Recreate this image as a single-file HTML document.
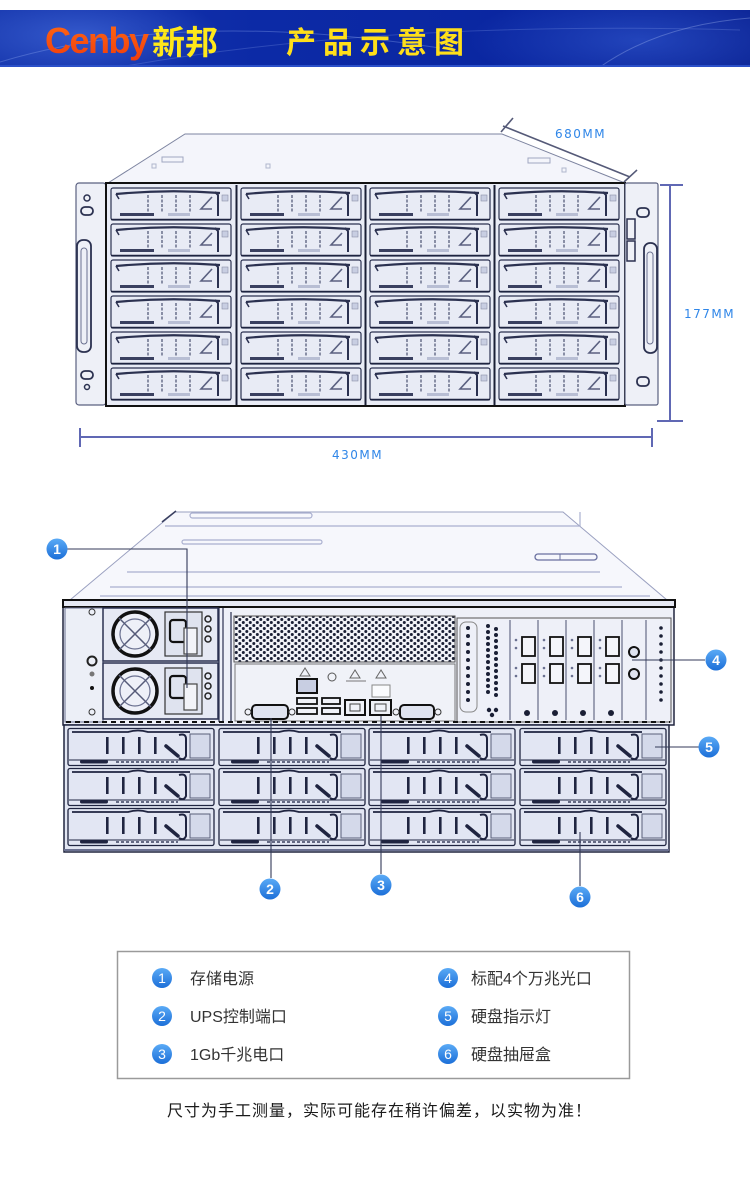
<!DOCTYPE html>
<html><head><meta charset="utf-8"><style>
html,body{margin:0;padding:0;background:#fff;}
svg{display:block;}
</style></head><body>
<svg width="750" height="1185" viewBox="0 0 750 1185" xmlns="http://www.w3.org/2000/svg">
<defs>
<clipPath id="bandclip"><rect x="0" y="10" width="750" height="57"/></clipPath>
<linearGradient id="band" x1="0" y1="0" x2="1" y2="0">
<stop offset="0" stop-color="#1636ad"/><stop offset="0.35" stop-color="#0c2aa6"/><stop offset="0.7" stop-color="#0a26a0"/><stop offset="1" stop-color="#0b2394"/>
</linearGradient>
<radialGradient id="spot1" cx="0.5" cy="0.5" r="0.5"><stop offset="0" stop-color="#4a72e0" stop-opacity="0.6"/><stop offset="1" stop-color="#4a72e0" stop-opacity="0"/></radialGradient>
<radialGradient id="spot2" cx="0.5" cy="0.5" r="0.5"><stop offset="0" stop-color="#3a64dc" stop-opacity="0.5"/><stop offset="1" stop-color="#3a64dc" stop-opacity="0"/></radialGradient>
<linearGradient id="orange" x1="0" y1="0" x2="0" y2="1"><stop offset="0" stop-color="#ff6a14"/><stop offset="1" stop-color="#f03c0c"/></linearGradient>
<linearGradient id="bub" x1="0" y1="0" x2="0" y2="1"><stop offset="0" stop-color="#5aaaf6"/><stop offset="1" stop-color="#1c6fd8"/></linearGradient>
<pattern id="dots" x="0" y="0" width="7" height="6" patternUnits="userSpaceOnUse">
<rect width="7" height="6" fill="#f2f3f8"/>
<circle cx="1.8" cy="1.5" r="1.5" fill="#1a1f35"/><circle cx="5.3" cy="4.5" r="1.5" fill="#1a1f35"/>
</pattern>
<g id="fd">
<rect x="3" y="2" width="120" height="32" rx="2" fill="#e8ebf5" stroke="#2b3150" stroke-width="1.2"/>
<path d="M8 8 Q60 3 112 7" fill="none" stroke="#2b3150" stroke-width="2.2"/>
<path d="M8 8 L11 13" stroke="#2b3150" stroke-width="1.5"/>
<g stroke="#4a5070" stroke-width="1.2" stroke-dasharray="3 1.5">
<line x1="40" y1="9" x2="40" y2="26"/><line x1="54" y1="9" x2="54" y2="26"/><line x1="68" y1="9" x2="68" y2="26"/><line x1="82" y1="9" x2="82" y2="26"/>
</g>
<path d="M104 11 L93 23 L104 23" fill="none" stroke="#5a6080" stroke-width="1.6"/>
<path d="M107 6 L110 9 L110 30" fill="none" stroke="#2b3150" stroke-width="2"/>
<rect x="114" y="9" width="6" height="6" fill="#c8cee2" stroke="#8a90a8" stroke-width="0.6"/>
<rect x="12" y="27" width="34" height="3" fill="#3a4060"/>
<rect x="60" y="27" width="22" height="3" fill="#b8bed4"/>
<line x1="3" y1="33.5" x2="123" y2="33.5" stroke="#1e2440" stroke-width="1.5"/>
</g>
<g id="rd">
<rect x="2" y="1.5" width="146" height="37" rx="2" fill="#e2e6f3" stroke="#1f2440" stroke-width="1.3"/>
<path d="M6 5 H62 Q72 2 82 5 H124" fill="none" stroke="#1f2440" stroke-width="1.8"/>
<rect x="40" y="10" width="2.6" height="17" fill="#1f2440"/>
<rect x="56" y="10" width="2.6" height="17" fill="#1f2440"/>
<rect x="72" y="10" width="2.6" height="17" fill="#1f2440"/>
<rect x="88" y="10" width="2.6" height="17" fill="#1f2440"/>
<line x1="100" y1="19" x2="112" y2="29" stroke="#1f2440" stroke-width="3.5" stroke-linecap="round"/>
<path d="M113 8 Q120 6 120 12 V29 Q118 34 113 31" fill="none" stroke="#1f2440" stroke-width="2"/>
<rect x="124" y="7" width="20" height="24" fill="#d4d9ea" stroke="#5a607a" stroke-width="1"/>
<line x1="3" y1="33" x2="147" y2="33" stroke="#1f2440" stroke-width="1"/>
<rect x="14" y="33" width="28" height="3.5" rx="1.7" fill="#1f2440"/>
<path d="M50 35 h62" stroke="#3a4060" stroke-width="1.5" stroke-dasharray="3 2"/>
</g>
</defs>

<!-- HEADER -->
<g clip-path="url(#bandclip)">
<rect x="0" y="10" width="750" height="57" fill="url(#band)"/>
<ellipse cx="80" cy="35" rx="140" ry="45" fill="url(#spot1)"/>
<ellipse cx="640" cy="40" rx="170" ry="50" fill="url(#spot2)"/>
<path d="M0 62 Q180 8 440 48" fill="none" stroke="#8fa8f0" stroke-opacity="0.35" stroke-width="1"/>
<path d="M120 67 Q380 20 740 30" fill="none" stroke="#8fa8f0" stroke-opacity="0.25" stroke-width="1"/>
<path d="M600 67 Q660 25 750 18" fill="none" stroke="#a8bcf4" stroke-opacity="0.35" stroke-width="1"/>
<rect x="0" y="65" width="750" height="2" fill="#2b50c8"/>
</g>
<text x="45" y="53" font-family="Liberation Sans, sans-serif" font-weight="700" font-size="36" letter-spacing="-1.5" fill="url(#orange)">Cenby</text>
<text x="152" y="54" font-family="Liberation Sans, Noto Sans CJK SC, sans-serif" font-weight="700" font-size="33" fill="#ffe81a">新邦</text>
<text x="286" y="53" font-family="Liberation Sans, Noto Sans CJK SC, sans-serif" font-weight="700" font-size="30" letter-spacing="7" fill="#ffdf1a">产品示意图</text>

<!-- FRONT VIEW -->
<polygon points="185,134 502,134 625,183 108,183" fill="#f4f5fb" stroke="#7d84a0" stroke-width="1"/>
<rect x="162" y="157" width="21" height="5" fill="none" stroke="#a0a6c0" stroke-width="1"/>
<rect x="528" y="158" width="22" height="5" fill="none" stroke="#a0a6c0" stroke-width="1"/>
<rect x="152" y="164" width="4" height="4" fill="none" stroke="#b0b6cc"/>
<rect x="266" y="164" width="4" height="4" fill="none" stroke="#b0b6cc"/>
<rect x="562" y="168" width="4" height="4" fill="none" stroke="#b0b6cc"/>
<!-- left ear -->
<rect x="76" y="183" width="30" height="222" rx="3" fill="#eef0f7" stroke="#5a6080" stroke-width="1.2"/>
<circle cx="87" cy="198" r="3" fill="none" stroke="#2b3150" stroke-width="1.5"/>
<rect x="81" y="207" width="12" height="8" rx="4" fill="none" stroke="#2b3150" stroke-width="1.8"/>
<rect x="77" y="240" width="14" height="112" rx="6" fill="none" stroke="#2b3150" stroke-width="1.8"/>
<rect x="81" y="248" width="6" height="96" rx="3" fill="none" stroke="#6a7090" stroke-width="1"/>
<rect x="81" y="371" width="12" height="8" rx="4" fill="none" stroke="#2b3150" stroke-width="1.8"/>
<circle cx="87" cy="387" r="2.5" fill="none" stroke="#2b3150" stroke-width="1.5"/>
<!-- main frame -->
<rect x="106" y="183" width="519" height="223" fill="#e9ecf6" stroke="#111" stroke-width="2"/>
<use href="#fd" x="108" y="186"/><use href="#fd" x="108" y="222"/><use href="#fd" x="108" y="258"/><use href="#fd" x="108" y="294"/><use href="#fd" x="108" y="330"/><use href="#fd" x="108" y="366"/>
<use href="#fd" x="238" y="186"/><use href="#fd" x="238" y="222"/><use href="#fd" x="238" y="258"/><use href="#fd" x="238" y="294"/><use href="#fd" x="238" y="330"/><use href="#fd" x="238" y="366"/>
<use href="#fd" x="367" y="186"/><use href="#fd" x="367" y="222"/><use href="#fd" x="367" y="258"/><use href="#fd" x="367" y="294"/><use href="#fd" x="367" y="330"/><use href="#fd" x="367" y="366"/>
<use href="#fd" x="496" y="186"/><use href="#fd" x="496" y="222"/><use href="#fd" x="496" y="258"/><use href="#fd" x="496" y="294"/><use href="#fd" x="496" y="330"/><use href="#fd" x="496" y="366"/>
<g stroke="#1a1f35" stroke-width="2"><line x1="236.5" y1="185" x2="236.5" y2="405"/><line x1="365.5" y1="185" x2="365.5" y2="405"/><line x1="494.5" y1="185" x2="494.5" y2="405"/></g>
<!-- right ear -->
<rect x="625" y="183" width="33" height="222" rx="2" fill="#eef0f7" stroke="#5a6080" stroke-width="1.2"/>
<rect x="627" y="219" width="8" height="20" fill="none" stroke="#2b3150" stroke-width="1.5"/>
<rect x="627" y="241" width="8" height="20" fill="none" stroke="#2b3150" stroke-width="1.5"/>
<rect x="637" y="208" width="12" height="9" rx="4" fill="none" stroke="#2b3150" stroke-width="1.8"/>
<rect x="644" y="243" width="13" height="110" rx="6" fill="none" stroke="#2b3150" stroke-width="1.8"/>
<rect x="647" y="252" width="6" height="92" rx="3" fill="none" stroke="#6a7090" stroke-width="1"/>
<rect x="637" y="377" width="12" height="9" rx="4" fill="none" stroke="#2b3150" stroke-width="1.8"/>

<!-- dimension lines -->
<g stroke="#555a78" stroke-width="1.6">
<line x1="503" y1="126" x2="630" y2="177"/>
<line x1="513" y1="118" x2="501" y2="132"/>
<line x1="637" y1="170" x2="624" y2="182"/>
</g>
<g stroke="#6068b4" stroke-width="2">
<line x1="670" y1="185" x2="670" y2="421"/>
<line x1="660" y1="185" x2="683" y2="185"/>
<line x1="657" y1="421" x2="683" y2="421"/>
<line x1="80" y1="437" x2="651" y2="437"/>
<line x1="80" y1="428" x2="80" y2="447"/>
<line x1="652" y1="428" x2="652" y2="447"/>
</g>
<g font-family="DejaVu Sans, Liberation Sans, sans-serif" font-size="12" letter-spacing="1.5" fill="#2f86e8">
<text x="555" y="138">680MM</text>
<text x="684" y="318">177MM</text>
<text x="332" y="459">430MM</text>
</g>

<!-- REAR VIEW -->
<polygon points="175,512 563,512 667,600 70,600" fill="#f6f7fc" stroke="#9aa0c0" stroke-width="1"/>
<line x1="162" y1="522" x2="176" y2="511" stroke="#3a4060" stroke-width="1.5"/>
<g fill="none" stroke="#aab0d0" stroke-width="1.2">
<rect x="190" y="513" width="122" height="5" rx="2.5"/>
<line x1="165" y1="526" x2="580" y2="526"/>
<line x1="580" y1="512" x2="580" y2="526"/>
<rect x="182" y="540" width="140" height="4" rx="2"/>
<line x1="127" y1="572" x2="600" y2="572"/>
<line x1="110" y1="587" x2="622" y2="587"/>
<line x1="100" y1="596" x2="650" y2="596"/>
</g>
<rect x="535" y="554" width="62" height="6" rx="3" fill="none" stroke="#6a70a0" stroke-width="1.3"/>
<line x1="560" y1="554" x2="560" y2="560" stroke="#6a70a0"/>
<!-- rear panel -->
<rect x="63" y="600" width="611" height="125" fill="#eef0f8" stroke="#20253f" stroke-width="1.5"/>
<rect x="63" y="600" width="612" height="7" fill="#e6e9f4" stroke="#111" stroke-width="2"/>
<!-- left strip -->
<rect x="65" y="608" width="38" height="114" fill="#eceff7" stroke="#6a7090" stroke-width="1"/>
<circle cx="92" cy="612" r="3" fill="none" stroke="#333"/>
<circle cx="92" cy="661" r="4.5" fill="none" stroke="#222" stroke-width="2"/>
<circle cx="92" cy="674" r="2.5" fill="#777"/>
<circle cx="92" cy="688" r="2" fill="#111"/>
<circle cx="92" cy="712" r="3" fill="none" stroke="#333"/>
<!-- PSU 1 -->
<rect x="103" y="608" width="115" height="53" fill="#e6e9f4" stroke="#2a3050" stroke-width="1.5"/>
<circle cx="135" cy="634" r="22" fill="#eef0f8" stroke="#111" stroke-width="3.5"/>
<circle cx="135" cy="634" r="15" fill="none" stroke="#6a7090" stroke-width="1.2"/>
<path d="M119 618 L151 650 M151 618 L119 650" stroke="#555a78" stroke-width="1.5"/>
<rect x="165" y="612" width="37" height="44" fill="#dfe3ef" stroke="#333" stroke-width="1.2"/>
<rect x="170" y="620" width="16" height="22" rx="3" fill="none" stroke="#111" stroke-width="2.2"/>
<rect x="184" y="628" width="13" height="26" fill="#f2f3f8" stroke="#444" stroke-width="1.2"/>
<circle cx="208" cy="619" r="3" fill="none" stroke="#222" stroke-width="1.5"/><circle cx="208" cy="629" r="3" fill="none" stroke="#222" stroke-width="1.5"/><circle cx="208" cy="639" r="3" fill="none" stroke="#222" stroke-width="1.5"/>
<!-- PSU 2 -->
<rect x="103" y="663" width="115" height="56" fill="#e6e9f4" stroke="#2a3050" stroke-width="1.5"/>
<circle cx="135" cy="691" r="22" fill="#eef0f8" stroke="#111" stroke-width="3.5"/>
<circle cx="135" cy="691" r="15" fill="none" stroke="#6a7090" stroke-width="1.2"/>
<path d="M119 675 L151 707 M151 675 L119 707" stroke="#555a78" stroke-width="1.5"/>
<rect x="165" y="668" width="37" height="46" fill="#dfe3ef" stroke="#333" stroke-width="1.2"/>
<rect x="170" y="676" width="16" height="22" rx="3" fill="none" stroke="#111" stroke-width="2.2"/>
<rect x="184" y="684" width="13" height="26" fill="#f2f3f8" stroke="#444" stroke-width="1.2"/>
<circle cx="208" cy="676" r="3" fill="none" stroke="#222" stroke-width="1.5"/><circle cx="208" cy="686" r="3" fill="none" stroke="#222" stroke-width="1.5"/><circle cx="208" cy="696" r="3" fill="none" stroke="#222" stroke-width="1.5"/>
<!-- divider -->
<g stroke="#2a3050" stroke-width="1.2"><line x1="219" y1="608" x2="219" y2="722"/><line x1="223" y1="608" x2="223" y2="722"/><line x1="231" y1="612" x2="231" y2="722"/></g>
<!-- vent -->
<rect x="234" y="616" width="221" height="46" fill="url(#dots)" stroke="#555" stroke-width="1"/>
<rect x="235" y="664" width="220" height="57" fill="#f0f2f8" stroke="#777" stroke-width="1"/>
<!-- IO ports -->
<rect x="252" y="705" width="36" height="14" rx="4" fill="#dfe3ef" stroke="#111" stroke-width="2"/>
<circle cx="248" cy="712" r="3" fill="none" stroke="#333"/><circle cx="292" cy="712" r="3" fill="none" stroke="#333"/>
<path d="M305 668 L300 676 L310 676 Z" fill="none" stroke="#666"/>
<rect x="297" y="679" width="20" height="14" fill="#c8cee2" stroke="#111" stroke-width="2"/>
<rect x="297" y="698" width="20" height="6" fill="#f0f2f8" stroke="#111" stroke-width="1.8"/>
<rect x="297" y="708" width="20" height="6" fill="#f0f2f8" stroke="#111" stroke-width="1.8"/>
<circle cx="332" cy="677" r="4" fill="none" stroke="#555"/>
<rect x="322" y="698" width="18" height="6" fill="#f0f2f8" stroke="#111" stroke-width="1.8"/>
<rect x="322" y="708" width="18" height="6" fill="#f0f2f8" stroke="#111" stroke-width="1.8"/>
<path d="M355 670 L350 678 L360 678 Z" fill="none" stroke="#666"/>
<line x1="346" y1="681" x2="366" y2="681" stroke="#777"/>
<rect x="345" y="700" width="20" height="15" fill="#f0f2f8" stroke="#111" stroke-width="2"/>
<rect x="350" y="704" width="10" height="7" fill="none" stroke="#444"/>
<path d="M381 670 L376 678 L386 678 Z" fill="none" stroke="#666"/>
<rect x="372" y="685" width="18" height="12" fill="#fafbfd" stroke="#888"/>
<rect x="370" y="700" width="21" height="15" fill="#f0f2f8" stroke="#111" stroke-width="2"/>
<rect x="375" y="704" width="11" height="7" fill="none" stroke="#444"/>
<rect x="400" y="705" width="34" height="14" rx="4" fill="#dfe3ef" stroke="#111" stroke-width="2"/>
<circle cx="396" cy="712" r="3" fill="none" stroke="#333"/><circle cx="438" cy="712" r="3" fill="none" stroke="#333"/>
<!-- right PCIe area -->
<rect x="457" y="618" width="214" height="104" fill="#eef0f8" stroke="#555" stroke-width="1"/>
<rect x="460" y="622" width="17" height="90" rx="6" fill="none" stroke="#888"/>
<g fill="#1a1f35">
<circle cx="468" cy="628" r="2"/><circle cx="468" cy="636" r="2"/><circle cx="468" cy="644" r="2"/><circle cx="468" cy="652" r="2"/><circle cx="468" cy="660" r="2"/><circle cx="468" cy="668" r="2"/><circle cx="468" cy="676" r="2"/><circle cx="468" cy="684" r="2"/><circle cx="468" cy="692" r="2"/><circle cx="468" cy="700" r="2"/>
<circle cx="488" cy="626" r="2"/><circle cx="496" cy="629" r="2"/><circle cx="488" cy="632" r="2"/><circle cx="496" cy="635" r="2"/><circle cx="488" cy="638" r="2"/><circle cx="496" cy="641" r="2"/><circle cx="488" cy="644" r="2"/><circle cx="496" cy="647" r="2"/><circle cx="488" cy="650" r="2"/><circle cx="496" cy="653" r="2"/><circle cx="488" cy="656" r="2"/><circle cx="496" cy="659" r="2"/><circle cx="488" cy="662" r="2"/><circle cx="496" cy="665" r="2"/><circle cx="488" cy="668" r="2"/><circle cx="496" cy="671" r="2"/><circle cx="488" cy="674" r="2"/><circle cx="496" cy="677" r="2"/><circle cx="488" cy="680" r="2"/><circle cx="496" cy="683" r="2"/><circle cx="488" cy="686" r="2"/><circle cx="496" cy="689" r="2"/><circle cx="488" cy="692" r="2"/><circle cx="496" cy="695" r="2"/>
<circle cx="489" cy="710" r="2.2"/><circle cx="496" cy="710" r="2.2"/><circle cx="492" cy="715" r="2.2"/>
<circle cx="661" cy="628" r="1.8"/><circle cx="661" cy="636" r="1.8"/><circle cx="661" cy="644" r="1.8"/><circle cx="661" cy="652" r="1.8"/><circle cx="661" cy="660" r="1.8"/><circle cx="661" cy="668" r="1.8"/><circle cx="661" cy="676" r="1.8"/><circle cx="661" cy="684" r="1.8"/><circle cx="661" cy="692" r="1.8"/><circle cx="661" cy="700" r="1.8"/>
<circle cx="527" cy="713" r="3"/><circle cx="555" cy="713" r="3"/><circle cx="583" cy="713" r="3"/><circle cx="611" cy="713" r="3"/>
</g>
<g stroke="#4a5070" stroke-width="1"><line x1="510" y1="620" x2="510" y2="720"/><line x1="538" y1="620" x2="538" y2="720"/><line x1="566" y1="620" x2="566" y2="720"/><line x1="594" y1="620" x2="594" y2="720"/><line x1="622" y1="620" x2="622" y2="720"/><line x1="646" y1="620" x2="646" y2="720"/></g>
<g fill="#f4f5fa" stroke="#111" stroke-width="1.8">
<rect x="522" y="637" width="13" height="19"/><rect x="522" y="664" width="13" height="19"/>
<rect x="550" y="637" width="13" height="19"/><rect x="550" y="664" width="13" height="19"/>
<rect x="578" y="637" width="13" height="19"/><rect x="578" y="664" width="13" height="19"/>
<rect x="606" y="637" width="13" height="19"/><rect x="606" y="664" width="13" height="19"/>
</g>
<g fill="#6a7090">
<circle cx="516" cy="640" r="1.3"/><circle cx="516" cy="648" r="1.3"/><circle cx="516" cy="668" r="1.3"/><circle cx="516" cy="676" r="1.3"/>
<circle cx="544" cy="640" r="1.3"/><circle cx="544" cy="648" r="1.3"/><circle cx="544" cy="668" r="1.3"/><circle cx="544" cy="676" r="1.3"/>
<circle cx="572" cy="640" r="1.3"/><circle cx="572" cy="648" r="1.3"/><circle cx="572" cy="668" r="1.3"/><circle cx="572" cy="676" r="1.3"/>
<circle cx="600" cy="640" r="1.3"/><circle cx="600" cy="648" r="1.3"/><circle cx="600" cy="668" r="1.3"/><circle cx="600" cy="676" r="1.3"/>
</g>
<circle cx="634" cy="652" r="5" fill="#dfe3ef" stroke="#111" stroke-width="2"/>
<circle cx="634" cy="674" r="5" fill="#dfe3ef" stroke="#111" stroke-width="2"/>
<line x1="66" y1="722" x2="670" y2="722" stroke="#111" stroke-width="2" stroke-dasharray="5 4"/>
<!-- rear drives -->
<rect x="64" y="725" width="605" height="127" fill="#e2e6f2" stroke="#20253f" stroke-width="1.5"/>
<use href="#rd" x="66" y="727"/><use href="#rd" x="66" y="767"/><use href="#rd" x="66" y="807"/>
<use href="#rd" x="217" y="727"/><use href="#rd" x="217" y="767"/><use href="#rd" x="217" y="807"/>
<use href="#rd" x="367" y="727"/><use href="#rd" x="367" y="767"/><use href="#rd" x="367" y="807"/>
<use href="#rd" x="518" y="727"/><use href="#rd" x="518" y="767"/><use href="#rd" x="518" y="807"/>
<line x1="64" y1="850" x2="669" y2="850" stroke="#6a7090" stroke-width="2"/>

<!-- leaders -->
<g stroke="#333a58" stroke-width="1.1" fill="none">
<path d="M67 549 H187 V688"/>
<path d="M632 660 H705"/>
<path d="M655 747 H699"/>
<path d="M271 718 V878"/>
<path d="M381 716 V874"/>
<path d="M580 832 V886"/>
</g>
<g font-family="Liberation Sans, sans-serif" font-weight="700" font-size="14" fill="#fff" text-anchor="middle">
<circle cx="57" cy="549" r="10.5" fill="url(#bub)"/><text x="57" y="554">1</text>
<circle cx="716" cy="660" r="10.5" fill="url(#bub)"/><text x="716" y="665">4</text>
<circle cx="709" cy="747" r="10.5" fill="url(#bub)"/><text x="709" y="752">5</text>
<circle cx="270" cy="889" r="10.5" fill="url(#bub)"/><text x="270" y="894">2</text>
<circle cx="381" cy="885" r="10.5" fill="url(#bub)"/><text x="381" y="890">3</text>
<circle cx="580" cy="897" r="10.5" fill="url(#bub)"/><text x="580" y="902">6</text>
</g>

<!-- legend -->
<rect x="117.5" y="951.5" width="512" height="127" fill="#fff" stroke="#9a9a9a" stroke-width="1.5"/>
<g font-family="Liberation Sans, sans-serif" font-size="14" fill="#fff" text-anchor="middle">
<circle cx="162" cy="978" r="10" fill="url(#bub)"/><text x="162" y="983">1</text>
<circle cx="162" cy="1016" r="10" fill="url(#bub)"/><text x="162" y="1021">2</text>
<circle cx="162" cy="1054" r="10" fill="url(#bub)"/><text x="162" y="1059">3</text>
<circle cx="448" cy="978" r="10" fill="url(#bub)"/><text x="448" y="983">4</text>
<circle cx="448" cy="1016" r="10" fill="url(#bub)"/><text x="448" y="1021">5</text>
<circle cx="448" cy="1054" r="10" fill="url(#bub)"/><text x="448" y="1059">6</text>
</g>
<g font-family="Liberation Sans, Noto Sans CJK SC, sans-serif" font-size="16" fill="#333">
<text x="190" y="984">存储电源</text>
<text x="190" y="1022">UPS控制端口</text>
<text x="190" y="1060">1Gb千兆电口</text>
<text x="471" y="984">标配4个万兆光口</text>
<text x="471" y="1022">硬盘指示灯</text>
<text x="471" y="1060">硬盘抽屉盒</text>
</g>
<text x="167" y="1116" font-family="Noto Sans CJK SC, sans-serif" font-size="16" letter-spacing="1" fill="#1a1a1a">尺寸为手工测量，实际可能存在稍许偏差，以实物为准！</text>
</svg>
</body></html>
